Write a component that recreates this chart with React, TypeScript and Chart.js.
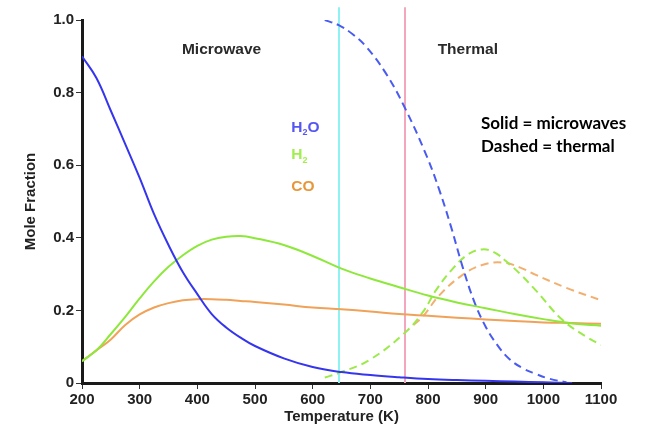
import React, { useEffect, useRef } from "react";
import { Chart, registerables } from "chart.js";

Chart.register(...registerables);

// ---- Data ----
const mwTemps = [200, 225, 250, 275, 300, 325, 350, 375, 400, 425, 450, 475, 500, 550, 600, 650, 700, 750, 800, 850, 900, 950, 1000, 1050, 1100];
const mwH2O = [0.9, 0.84, 0.75, 0.658, 0.565, 0.465, 0.38, 0.305, 0.245, 0.19, 0.153, 0.125, 0.102, 0.068, 0.044, 0.03, 0.022, 0.016, 0.011, 0.008, 0.006, 0.004, 0.002, 0.0, null];
const mwH2 = [0.06, 0.09, 0.135, 0.182, 0.233, 0.28, 0.32, 0.352, 0.378, 0.395, 0.403, 0.405, 0.399, 0.38, 0.35, 0.315, 0.288, 0.264, 0.241, 0.222, 0.206, 0.19, 0.176, 0.164, 0.158];
const mwCO = [0.06, 0.09, 0.12, 0.16, 0.189, 0.208, 0.22, 0.228, 0.231, 0.231, 0.229, 0.226, 0.223, 0.216, 0.208, 0.203, 0.197, 0.19, 0.185, 0.18, 0.175, 0.171, 0.167, 0.165, 0.163];

const thH2OTemps = [621, 646, 670, 693, 727, 759, 797, 820, 840, 860, 880, 900, 920, 941, 965, 987, 1010, 1040];
const thH2O = [1.0, 0.985, 0.96, 0.926, 0.853, 0.761, 0.628, 0.53, 0.43, 0.32, 0.225, 0.155, 0.105, 0.066, 0.04, 0.025, 0.012, 0.002];
const thH2Temps = [621, 646, 698, 759, 791, 814, 843, 870, 894, 915, 935, 960, 987, 1033, 1079, 1100];
const thH2 = [0.015, 0.028, 0.063, 0.137, 0.195, 0.256, 0.315, 0.355, 0.368, 0.36, 0.336, 0.3, 0.255, 0.174, 0.123, 0.105];
const thCOTemps = [775, 791, 820, 860, 894, 929, 960, 987, 1040, 1100];
const thCO = [0.16, 0.183, 0.242, 0.298, 0.325, 0.332, 0.318, 0.298, 0.262, 0.228];

const xTickValues = [200, 300, 400, 500, 600, 700, 800, 900, 1000, 1100];
const yTickValues = [0, 0.2, 0.4, 0.6, 0.8, 1.0];
const markerTemps = [645, 760];
const markerTop = 1.035;

const regionLabels = [
  { text: "Microwave", x: 442, y: 0.917 },
  { text: "Thermal", x: 869, y: 0.917 },
];
const speciesLabels = [
  { main: "H", sub: "2", tail: "O", x: 563, y: 0.703, color: "#5656f2" },
  { main: "H", sub: "2", tail: "", x: 563, y: 0.628, color: "#a2ee50" },
  { main: "CO", sub: "", tail: "", x: 563, y: 0.541, color: "#e8963a" },
];
const noteLines = [
  { text: "Solid = microwaves", x: 892, y: 0.716 },
  { text: "Dashed = thermal", x: 892, y: 0.651 },
];

const BLUE = "#3535ee";
const BLUE_D = "#4a5cf0";
const GREEN = "#8ee83c";
const GREEN_D = "#9cea4a";
const ORANGE = "#f0a258";
const ORANGE_D = "#f2b070";
const FONT = "'Liberation Sans', Arial, Helvetica, sans-serif";

const pts = (xs: number[], ys: (number | null)[]) =>
  xs.map((x, i) => ({ x, y: ys[i] })).filter((p) => p.y !== null);

const annotPlugin = {
  id: "annot",
  beforeDatasetsDraw(chart: any) {
    const { ctx, chartArea, scales } = chart;
    const x = scales.x, y = scales.y;
    const colors = ["#8ef2f2", "#f4a6bd"];
    ctx.save();
    markerTemps.forEach((t, i) => {
      const px = Math.round(x.getPixelForValue(t));
      ctx.strokeStyle = colors[i];
      ctx.lineWidth = 2;
      ctx.beginPath();
      ctx.moveTo(px, y.getPixelForValue(markerTop));
      ctx.lineTo(px, chartArea.bottom);
      ctx.stroke();
    });
    ctx.restore();
  },
  afterDraw(chart: any) {
    const { ctx, scales } = chart;
    const x = scales.x, y = scales.y;
    ctx.save();
    ctx.textBaseline = "middle";
    ctx.textAlign = "center";
    ctx.fillStyle = "#2a2a2a";
    ctx.font = `bold 15.5px ${FONT}`;
    regionLabels.forEach((l) => {
      ctx.fillText(l.text, x.getPixelForValue(l.x), y.getPixelForValue(l.y));
    });
    ctx.textAlign = "left";
    speciesLabels.forEach((l) => {
      let px = x.getPixelForValue(l.x);
      const py = y.getPixelForValue(l.y);
      ctx.fillStyle = l.color;
      ctx.font = `bold 15.5px ${FONT}`;
      ctx.fillText(l.main, px, py);
      px += ctx.measureText(l.main).width;
      if (l.sub) {
        ctx.font = `bold 9px ${FONT}`;
        ctx.fillText(l.sub, px, py + 5);
        px += ctx.measureText(l.sub).width;
      }
      if (l.tail) {
        ctx.font = `bold 15.5px ${FONT}`;
        ctx.fillText(l.tail, px, py);
      }
    });
    ctx.fillStyle = "#000";
    ctx.font = `bold 17px Lato, 'Open Sans', sans-serif`;
    noteLines.forEach((l) => {
      ctx.fillText(l.text, x.getPixelForValue(l.x), y.getPixelForValue(l.y));
    });
    ctx.restore();
  },
};

export default function App() {
  const ref = useRef<HTMLCanvasElement | null>(null);
  useEffect(() => {
    if (!ref.current) return;
    const solid = (data: any, color: string) => ({
      data, borderColor: color, borderWidth: 2, pointRadius: 0, fill: false,
      tension: 0.4, spanGaps: true,
    });
    const dashed = (data: any, color: string) => ({
      ...solid(data, color), borderDash: [8, 5],
    });
    const chart = new Chart(ref.current, {
      type: "line",
      data: {
        datasets: [
          solid(pts(mwTemps, mwH2O), BLUE),
          solid(pts(mwTemps, mwH2), GREEN),
          solid(pts(mwTemps, mwCO), ORANGE),
          dashed(pts(thH2OTemps, thH2O), BLUE_D),
          dashed(pts(thH2Temps, thH2), GREEN_D),
          dashed(pts(thCOTemps, thCO), ORANGE_D),
        ] as any,
      },
      options: {
        animation: false,
        responsive: false,
        devicePixelRatio: 1,
        parsing: false as any,
        layout: { padding: { left: 0, top: 20, right: 53, bottom: 0 } },
        plugins: { legend: { display: false }, tooltip: { enabled: false } },
        scales: {
          x: {
            type: "linear",
            min: 200,
            max: 1100,
            afterBuildTicks: (s: any) => { s.ticks = xTickValues.map((v) => ({ value: v })); },
            afterFit: (s: any) => { s.height = 47; },
            ticks: {
              color: "#222", font: { family: FONT, size: 15, weight: "bold" }, padding: 2, maxRotation: 0, autoSkip: false,
              callback: (v: any) => String(v),
            },
            grid: { drawOnChartArea: false, drawTicks: true, tickLength: 6, color: "#333", lineWidth: 1 },
            border: { display: true, width: 3, color: "#1a1a1a" },
            title: { display: true, text: "Temperature (K)", color: "#222", font: { family: FONT, size: 15, weight: "bold" }, padding: { top: 0, bottom: 4 } },
          },
          y: {
            type: "linear",
            min: 0,
            max: 1,
            afterBuildTicks: (s: any) => { s.ticks = yTickValues.map((v) => ({ value: v })); },
            afterFit: (s: any) => { s.width = 82; },
            ticks: {
              color: "#222", font: { family: FONT, size: 15, weight: "bold" }, padding: 2,
              callback: (v: any) => (Number(v) === 0 ? "0" : Number(v).toFixed(1)),
            },
            grid: { drawOnChartArea: false, drawTicks: true, tickLength: 6, color: "#333", lineWidth: 1 },
            border: { display: true, width: 3, color: "#1a1a1a" },
            title: { display: true, text: "Mole Fraction", color: "#222", font: { family: FONT, size: 15, weight: "bold" }, padding: { top: 22, bottom: 0 } },
          },
        },
      } as any,
      plugins: [annotPlugin],
    });
    return () => chart.destroy();
  }, []);
  return (
    <div style={{ position: "fixed", left: 0, top: 0, width: 654, height: 430, background: "#fff" }}>
      <canvas ref={ref} width={654} height={430} style={{ width: 654, height: 430, display: "block" }} />
    </div>
  );
}
